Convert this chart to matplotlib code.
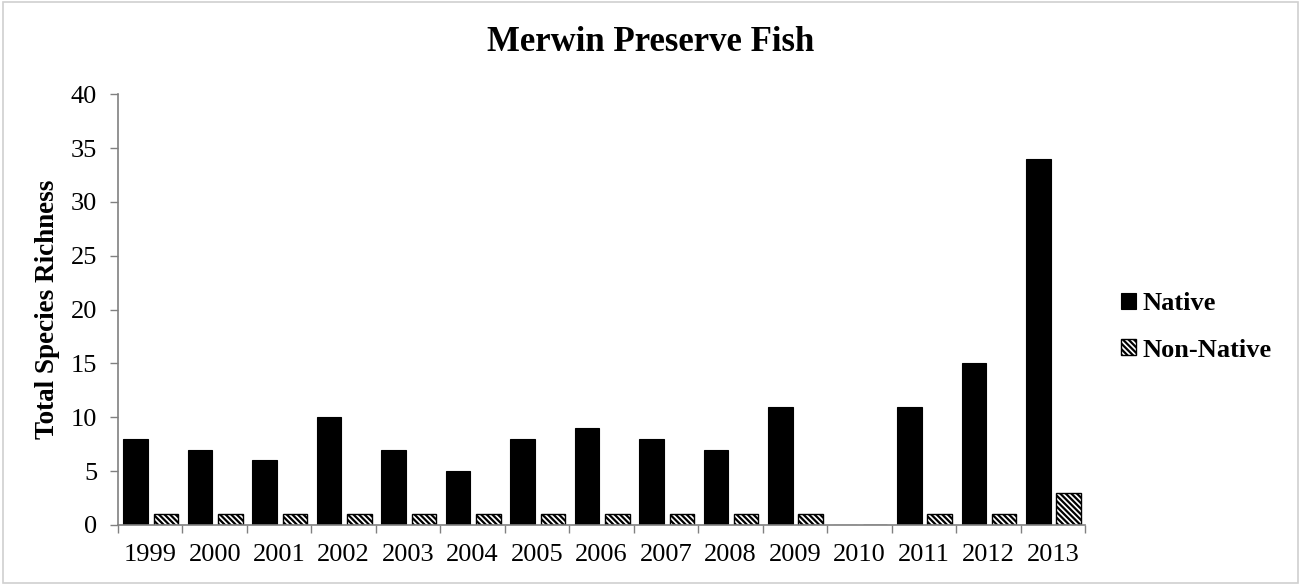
import numpy as np
import matplotlib.pyplot as plt
from matplotlib.patches import Rectangle

years = ['1999', '2000', '2001', '2002', '2003', '2004', '2005', '2006',
         '2007', '2008', '2009', '2010', '2011', '2012', '2013']
native = [8, 7, 6, 10, 7, 5, 8, 9, 8, 7, 11, 0, 11, 15, 34]
non_native = [1, 1, 1, 1, 1, 1, 1, 1, 1, 1, 1, 0, 1, 1, 3]

plt.rcParams['font.family'] = ['Liberation Serif', 'DejaVu Serif']
plt.rcParams['hatch.linewidth'] = 1.6

fig = plt.figure(figsize=(13.01, 5.85), dpi=100)
fig.patches.append(Rectangle((0.002, 0.003), 0.996, 0.994, transform=fig.transFigure,
                             fill=False, edgecolor='#d0d0d0', linewidth=1.2))
ax = fig.add_axes([0.0907, 0.1026, 0.7433, 0.7364])

x = np.arange(len(years))
w = 0.38
ax.bar(x - 0.225, native, width=w, color='black', edgecolor='black',
       linewidth=0.8, label='Native')
ax.bar(x + 0.245, non_native, width=w, color='white', edgecolor='black',
       hatch='\\\\\\\\\\\\', linewidth=1.0, label='Non-Native')

ax.set_xlim(-0.5, len(years) - 0.5)
ax.set_ylim(0, 40)
ax.set_yticks(range(0, 41, 5))
ax.set_xticks(x)
ax.set_xticklabels(years)
ax.set_xticks(np.arange(-0.5, len(years)), minor=True)
ax.tick_params(axis='x', which='major', length=0, labelsize=19, pad=14)
ax.tick_params(axis='x', which='minor', length=6, width=1, color='#808080', direction='out')
ax.tick_params(axis='y', labelsize=19, length=6, width=1, color='#808080', direction='out', pad=9)

for s in ['top', 'right']:
    ax.spines[s].set_visible(False)
for s in ['left', 'bottom']:
    ax.spines[s].set_color('#808080')
    ax.spines[s].set_linewidth(1.2)

ax.set_ylabel('Total Species Richness', fontsize=19.5, fontweight='bold', labelpad=8)
fig.suptitle('Merwin Preserve Fish', fontsize=25, fontweight='bold', x=0.5, y=0.955)

leg = ax.legend(loc='center left', bbox_to_anchor=(1.013, 0.46), frameon=False,
                handlelength=0.55, handleheight=0.55, handletextpad=0.25,
                labelspacing=0.9, prop={'weight': 'bold', 'size': 19})

fig.savefig('out.png', dpi=100)
